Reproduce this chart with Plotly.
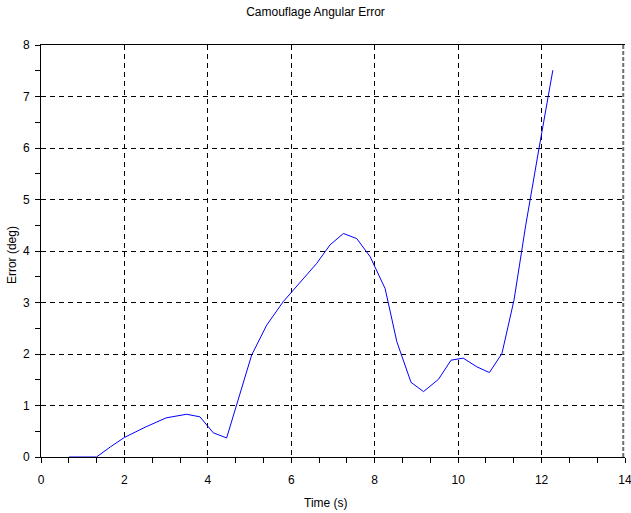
import plotly.graph_objects as go

# Angular error samples over time
time_s = [0.67, 1.33, 1.67, 2.0, 2.5, 3.0, 3.49, 3.81, 4.13, 4.45, 5.05, 5.41,
          5.81, 6.21, 6.61, 6.93, 7.25, 7.57, 7.89, 8.25, 8.53, 8.87, 9.17,
          9.53, 9.83, 10.12, 10.45, 10.75, 11.05, 11.34, 11.62, 11.94, 12.27]
error_deg = [0.0, 0.0, 0.2, 0.38, 0.58, 0.76, 0.83, 0.78, 0.47, 0.37, 1.98, 2.56,
             3.02, 3.4, 3.76, 4.12, 4.34, 4.24, 3.89, 3.27, 2.24, 1.45, 1.27,
             1.51, 1.88, 1.92, 1.75, 1.64, 2.01, 3.05, 4.5, 6.0, 7.51]

x_ticks = [0, 2, 4, 6, 8, 10, 12, 14]
y_ticks = [0, 1, 2, 3, 4, 5, 6, 7, 8]

FONT = "Liberation Sans, Arial, sans-serif"
GRID_DASH = "5px,4px"

fig = go.Figure()
fig.add_trace(go.Scatter(
    x=time_s, y=error_deg, mode="lines",
    line=dict(color="#0000ff", width=1),
    showlegend=False, hoverinfo="skip",
))

fig.update_layout(
    width=631, height=513,
    margin=dict(l=41, r=6, t=45, b=56),
    paper_bgcolor="white", plot_bgcolor="white",
    font=dict(family=FONT, size=12, color="black"),
    title=dict(text="Camouflage Angular Error", x=0.5, xanchor="center",
               y=1 - 12 / 513, yanchor="middle", yref="container",
               font=dict(size=12, family=FONT, color="black")),
)

fig.update_xaxes(
    range=[0, 14], tickvals=x_ticks, ticktext=[str(v) for v in x_ticks],
    showline=True, linecolor="black", linewidth=1, mirror=True,
    ticks="outside", ticklen=5, tickcolor="black", tickwidth=1,
    minor=dict(dtick=2 / 3, tick0=0, ticks="outside", ticklen=5,
               tickcolor="black", showgrid=False),
    showgrid=True, gridcolor="black", gridwidth=1, griddash=GRID_DASH,
    zeroline=False, ticklabelstandoff=7, ticklabeloverflow="allow",
    automargin=False,
    tickfont=dict(size=12, family=FONT, color="black"),
)
fig.update_yaxes(
    range=[0, 8], tickvals=y_ticks, ticktext=[str(v) for v in y_ticks],
    showline=True, linecolor="black", linewidth=1, mirror=False,
    ticks="outside", ticklen=5, tickcolor="black", tickwidth=1,
    minor=dict(dtick=0.5, tick0=0, ticks="outside", ticklen=5,
               tickcolor="black", showgrid=False),
    showgrid=True, gridcolor="black", gridwidth=1, griddash=GRID_DASH,
    zeroline=False, ticklabelstandoff=3, ticklabeloverflow="allow",
    automargin=False,
    tickfont=dict(size=12, family=FONT, color="black"),
)

# Grey dashed right-hand frame edge
fig.add_shape(type="line", xref="paper", yref="paper", x0=0.997, x1=0.997,
              y0=0, y1=1, layer="above",
              line=dict(color="#6e6e6e", width=2, dash="4px,2px"))

# Axis titles
fig.add_annotation(text="Time (s)", xref="paper", yref="paper", x=0.488, y=0,
                   yshift=-46, xanchor="center", yanchor="middle",
                   showarrow=False, font=dict(size=12, family=FONT, color="black"))
fig.add_annotation(text="Error (deg)", xref="paper", yref="paper", x=0, y=0.49,
                   xshift=-29, xanchor="center", yanchor="middle", textangle=-90,
                   showarrow=False, font=dict(size=12, family=FONT, color="black"))

fig.write_html("out.html")
